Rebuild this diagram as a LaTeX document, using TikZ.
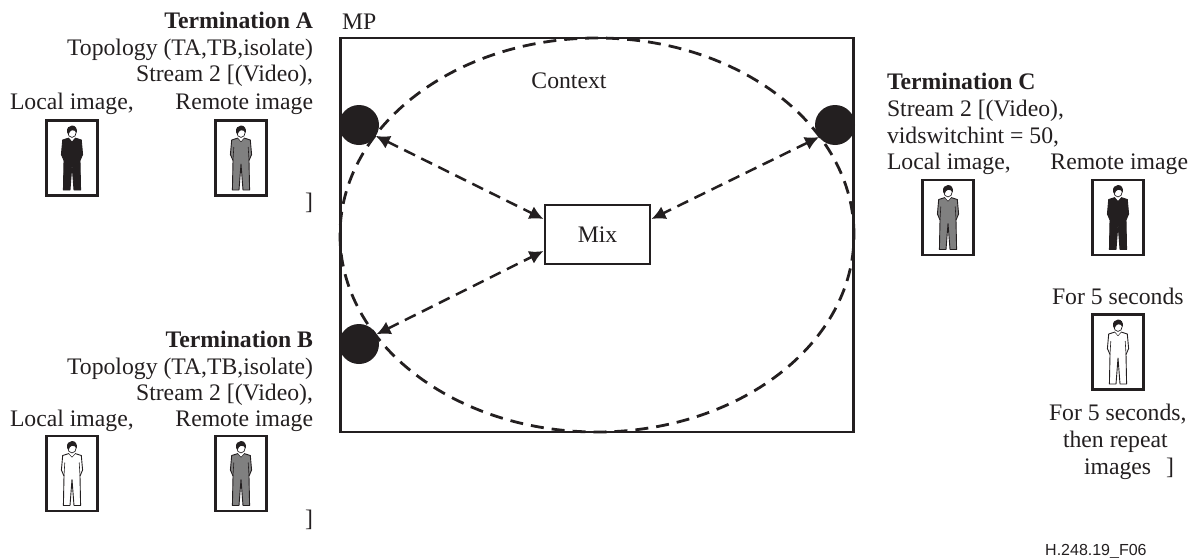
\documentclass[tikz,border=0pt]{standalone}
\usepackage{fontspec}
\setmainfont{Liberation Serif}
\newfontfamily\labelsans{Liberation Sans}
\usetikzlibrary{arrows.meta,shapes.geometric}
\definecolor{ink}{HTML}{231F20}
\definecolor{midgrey}{HTML}{808080}
\newcommand{\bodyfont}{\fontsize{23.7}{28}\selectfont}
\tikzset{
  txt/.style={font=\bodyfont,text=ink,inner sep=0pt,outer sep=0pt},
  rtext/.style={txt,anchor=base east},
  ltext/.style={txt,anchor=base west},
  ctext/.style={txt,anchor=base},
  imgbox/.style={draw=ink,line width=2.6pt,minimum width=51.5pt,minimum height=75pt,inner sep=0pt,fill=white},
  term/.style={circle,fill=ink,draw=none,minimum size=40pt,inner sep=0pt,outer sep=0pt},
  link/.style={draw=ink,line width=2.5pt,dash pattern=on 12pt off 7pt,{Latex[length=14pt,width=14pt]}-{Latex[length=14pt,width=14pt]}},
}
\newcommand{\personfig}[4]{% name, x, y, fill
  \node[imgbox] (#1) at (#2,#3) {};
  \begin{scope}[shift={(#2,#3)}]
    \draw[fill=#4,draw=ink,line width=0.9pt,line join=round]
      (-3,-20) -- (-9.3,-18) -- (-10.6,-3.5) -- (-8,2.5) -- (-8.6,32) -- (-2,32) -- (0,6) -- (2,32) -- (8.6,32) -- (8,2.5) -- (10.6,-3.5) -- (9.3,-18) -- (3,-20) -- (0,-16.5) -- cycle;
    \draw[ink,line width=0.6pt] (-7.2,-11) -- (-8,2.5) (7.2,-11) -- (8,2.5);
    \fill[white] (-3,-20.3) -- (0,-16.8) -- (3,-20.3) -- (3,-24) -- (-3,-24) -- cycle;
    \draw[fill=white,draw=ink,line width=0.7pt] (0,-25.5) ellipse (4.2 and 4.9);
    \fill[ink] (-5,-26) .. controls (-5.4,-30) and (-3,-32.5) .. (0,-32.5) .. controls (3.2,-32.5) and (5.4,-30) .. (4.8,-25.5) .. controls (3.5,-27) and (1.5,-28) .. (0,-27.8) .. controls (-1.5,-27) and (-3,-26) .. (-3.4,-23.5) -- cycle;
  \end{scope}
}
\begin{document}
\begin{tikzpicture}[x=1pt,y=-1pt]
\useasboundingbox (0,0) rectangle (1196,557);
% context box
\node[draw=ink,line width=2.3pt,minimum width=513pt,minimum height=393.4pt,inner sep=0pt,outer sep=0pt,anchor=north west] (mp) at (340.5,38.3) {};
\node[ltext] (mplabel) at (342,29) {MP};
\node[draw=ink,line width=2.8pt,dash pattern=on 13pt off 8pt,ellipse,minimum width=514pt,minimum height=394pt,inner sep=0pt,outer sep=0pt] (ctx) at (597,235) {};
\node[ctext] (ctxlabel) at (569,88) {Context};
% terminations
\node[term] (ta) at (359,125) {};
\node[term] (tb) at (359,344) {};
\node[term] (tc) at (835,125) {};
% mix
\node[draw=ink,line width=2.4pt,minimum width=105pt,minimum height=59pt,inner sep=0pt,fill=white] (mix) at (597.5,234.5) {};
\node[txt] (mixlabel) at (597.5,235) {Mix};
\coordinate (mixa) at (543.5,219);
\coordinate (mixb) at (543.5,251);
\coordinate (mixc) at (651.5,219);
\draw[link] (ta.-33) -- (mixa);
\draw[link] (tb.29) -- (mixb);
\draw[link] (tc.217) -- (mixc);
% Termination A
\node[rtext,font=\bodyfont\bfseries] (a1) at (313,28) {Termination A};
\node[rtext] (a2) at (313,55) {Topology (TA,TB,isolate)};
\node[rtext] (a3) at (313,81) {Stream 2 [(Video),};
\node[ltext] (a4) at (10,109) {Local image,};
\node[rtext] (a5) at (313,109) {Remote image};
\personfig{ai1}{72}{158}{ink}
\personfig{ai2}{241}{158}{midgrey}
\node[rtext] (a6) at (313,209) {]};
% Termination B
\node[rtext,font=\bodyfont\bfseries] (b1) at (313,347) {Termination B};
\node[rtext] (b2) at (313,374) {Topology (TA,TB,isolate)};
\node[rtext] (b3) at (313,400) {Stream 2 [(Video),};
\node[ltext] (b4) at (10,426) {Local image,};
\node[rtext] (b5) at (313,426) {Remote image};
\personfig{bi1}{72}{473.5}{white}
\personfig{bi2}{241}{473.5}{midgrey}
\node[rtext] (b6) at (313,526) {]};
% Termination C
\node[ltext,font=\bodyfont\bfseries] (c1) at (887,89) {Termination C};
\node[ltext] (c2) at (887,116) {Stream 2 [(Video),};
\node[ltext] (c3) at (887,143) {vidswitchint = 50,};
\node[ltext] (c4) at (887,169) {Local image,};
\node[rtext] (c5) at (1188,169) {Remote image};
\personfig{ci1}{948}{217.5}{midgrey}
\personfig{ci2}{1118}{217.5}{ink}
\node[ltext] (c6) at (1052,304) {For 5 seconds};
\personfig{ci3}{1118}{352}{white}
\node[ltext] (c7) at (1049,420) {For 5 seconds,};
\node[ltext] (c8) at (1063,447) {then repeat};
\node[ltext] (c9) at (1084,474) {images};
\node[ltext] (c10) at (1166,474) {]};
\node[anchor=base west,inner sep=0pt,text=ink,font=\labelsans\fontsize{16}{18}\selectfont] (fig) at (1045,555) {H.248.19\_F06};
\end{tikzpicture}
\end{document}
